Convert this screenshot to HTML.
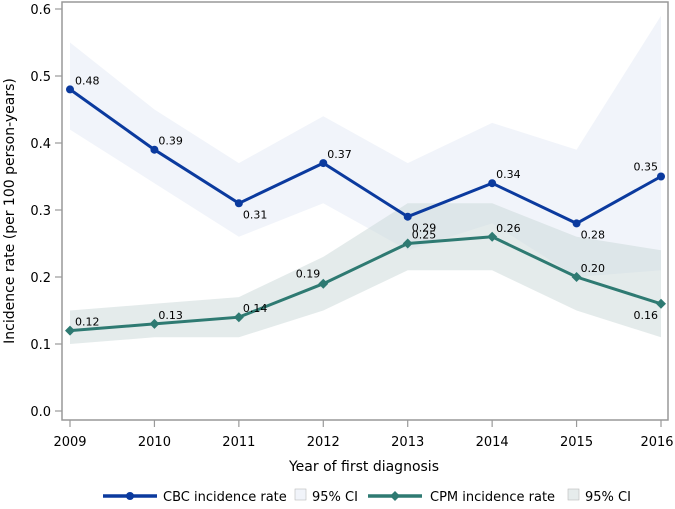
<!DOCTYPE html>
<html><head><meta charset="utf-8"><style>
body{margin:0;background:#fff;}
svg{font-family:"DejaVu Sans","Liberation Sans",sans-serif;}
</style></head><body>
<svg id="chart" width="675" height="504" xmlns="http://www.w3.org/2000/svg">
<rect x="0" y="0" width="675" height="504" fill="#fff"/>
<g id="plot"></g>
<rect x="62" y="2" width="606" height="418" fill="none" stroke="#999" stroke-width="1.5"/>
<g id="axes"></g>
<text x="364" y="471" font-size="14" text-anchor="middle" fill="#000">Year of first diagnosis</text>
<text transform="translate(14,211) rotate(-90)" font-size="14" text-anchor="middle" fill="#000">Incidence rate (per 100 person-years)</text>
<g font-size="13">
<g>
<line x1="103" y1="496" x2="157" y2="496" stroke="#0b3a9e" stroke-width="3.5"/><circle cx="130" cy="496" r="4" fill="#0b3a9e"/>
<text x="163" y="501">CBC incidence rate</text></g>
<g>
<rect x="295" y="489" width="11" height="11" fill="#f1f4fa" stroke="#bbb" stroke-width="0.6"/>
<text x="312" y="501">95% CI</text></g>
<g>
<line x1="368" y1="496" x2="422" y2="496" stroke="#2e7a72" stroke-width="3.5"/><path d="M395 491 L400 496 L395 501 L390 496Z" fill="#2e7a72"/>
<text x="430" y="501">CPM incidence rate</text></g>
<g>
<rect x="568" y="489" width="11" height="11" fill="#e6ecec" stroke="#bbb" stroke-width="0.6"/>
<text x="585" y="501">95% CI</text></g>
</g>
</svg>
<script>
const years=[2009,2010,2011,2012,2013,2014,2015,2016];
const cbcRate=[0.48,0.39,0.31,0.37,0.29,0.34,0.28,0.35];
const cbcLo=[0.42,0.34,0.26,0.31,0.24,0.28,0.20,0.21];
const cbcHi=[0.55,0.45,0.37,0.44,0.37,0.43,0.39,0.59];
const cpmRate=[0.12,0.13,0.14,0.19,0.25,0.26,0.20,0.16];
const cpmLo=[0.10,0.11,0.11,0.15,0.21,0.21,0.15,0.11];
const cpmHi=[0.15,0.16,0.17,0.23,0.31,0.31,0.26,0.24];
const yTicks=[0.0,0.1,0.2,0.3,0.4,0.5,0.6];
const cbcLabelPos=['r','r','b','r','b','r','b','t'];
const cpmLabelPos=['r','r','r','t','r','r','r','bl'];
const NS='http://www.w3.org/2000/svg';
const xS=y=>70+(y-2009)*(661-70)/7;
const yS=v=>411-v*(411-9)/0.6;
const plot=document.getElementById('plot'),axes=document.getElementById('axes');
function mk(tag,attrs,parent){const e=document.createElementNS(NS,tag);for(const k in attrs)e.setAttribute(k,attrs[k]);parent.appendChild(e);return e;}
function band(lo,hi,fill,op,name){
 let d='M'+years.map((y,i)=>xS(y)+' '+yS(hi[i])).join(' L ');
 d+=' L '+years.slice().reverse().map((y,j)=>{const i=years.length-1-j;return xS(y)+' '+yS(lo[i]);}).join(' L ')+' Z';
 const p=mk('path',{d:d,fill:fill,'fill-opacity':op},plot);
 
 
}
band(cbcLo,cbcHi,'#f1f4fa',1,'cbc-ci-band');
band(cpmLo,cpmHi,'#c9d8d8',0.5,'cpm-ci-band');
function series(rate,color,marker,name,pos){
 const pl=mk('polyline',{points:years.map((y,i)=>xS(y)+','+yS(rate[i])).join(' '),fill:'none',stroke:color,'stroke-width':3},plot);
 
 
 rate.forEach((v,i)=>{
  const x=xS(years[i]),y=yS(v);let m;
  if(marker==='c')m=mk('circle',{cx:x,cy:y,r:4,fill:color},plot);
  else m=mk('path',{d:`M${x} ${y-5} L${x+5} ${y} L${x} ${y+5} L${x-5} ${y}Z`,fill:color},plot);
  
  
  let tx=x+4,ty=y-5,anchor='start';
  if(pos[i]==='b'){ty=y+15;}
  if(pos[i]==='t'){tx=x-3;ty=y-6;anchor='end';}
  if(pos[i]==='bl'){tx=x-3;ty=y+15;anchor='end';}
  if(i===0){tx=x+5;}
  const t=mk('text',{x:tx,y:ty,'font-size':11,'text-anchor':anchor,fill:'#000'},plot);
  t.textContent=v.toFixed(2);
  
  
 });
}
series(cbcRate,'#0b3a9e','c','cbc',cbcLabelPos);
series(cpmRate,'#2e7a72','d','cpm',cpmLabelPos);
yTicks.forEach(v=>{
 const l=mk('line',{x1:55,x2:62,y1:yS(v),y2:yS(v),stroke:'#999','stroke-width':1.2},axes);
 
 
 const t=mk('text',{x:51,y:yS(v)+5,'font-size':13,'text-anchor':'end',fill:'#000'},axes);
 t.textContent=v.toFixed(1);
 
 
});
years.forEach((y,i)=>{
 const l=mk('line',{x1:xS(y),x2:xS(y),y1:420,y2:427,stroke:'#999','stroke-width':1.2},axes);
 
 
 const t=mk('text',{x:i===years.length-1?xS(y)-4:xS(y),y:446,'font-size':13,'text-anchor':'middle',fill:'#000'},axes);
 t.textContent=y;
 
 
});
</script>
</body></html>
